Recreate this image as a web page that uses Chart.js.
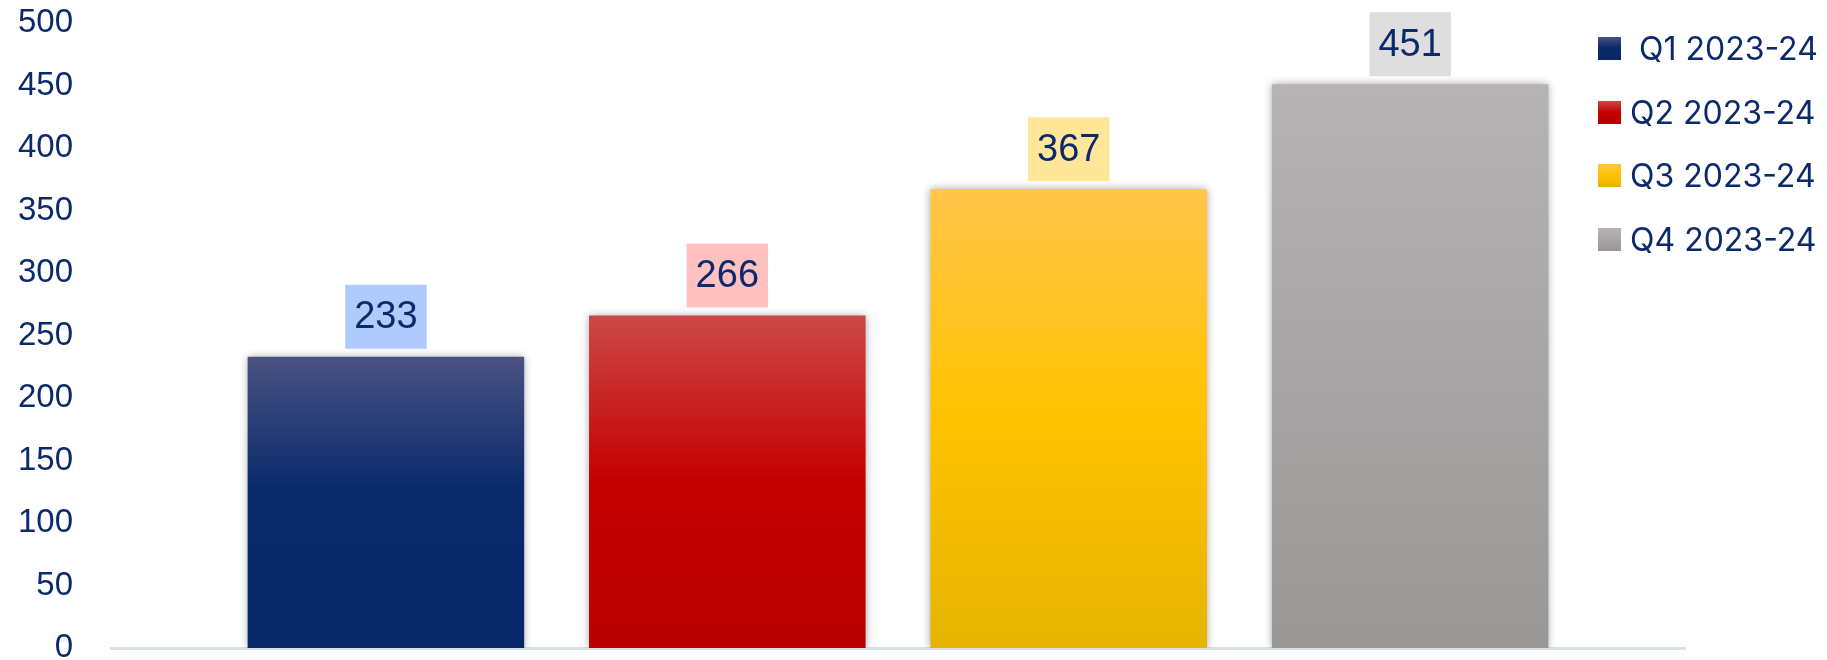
<!DOCTYPE html>
<html>
<head>
<meta charset="utf-8">
<script src="https://cdn.jsdelivr.net/npm/chart.js@4.4.1/dist/chart.umd.min.js"></script>
<style>
  body { margin: 0; background: #fff; }
  #wrap { position: relative; width: 1827px; height: 660px; }
  #legend {
    position: absolute; left: 1598px; top: 17px;
    margin: 0; padding: 0; list-style: none;
    font-family: Inter, "Noto Sans", sans-serif; font-size: 32px; color: #0b2a6b;
  }
  #legend li { display: flex; align-items: center; height: 63.5px; white-space: pre; }
  #legend .box { width: 23px; height: 23px; margin-right: 9px; flex: none; }
</style>
</head>
<body>
<div id="wrap">
  <canvas id="myChart" width="1827" height="660"></canvas>
  <ul id="legend"></ul>
</div>
<script>
// 四半期ごとの値
const QUARTERS = [' Q1 2023-24', 'Q2 2023-24', 'Q3 2023-24', 'Q4 2023-24'];
const VALUES = [233, 266, 367, 451];
const Y_TICKS = [0, 50, 100, 150, 200, 250, 300, 350, 400, 450, 500];

// 棒のグラデーション（上→下）
const BAR_STOPS = [
  [[0, '#4a5282'], [0.45, '#0a2a6c'], [1, '#07276a']],
  [[0, '#cc4848'], [0.5, '#c40000'], [1, '#b80000']],
  [[0, '#ffc64a'], [0.5, '#ffc200'], [1, '#e6b400']],
  [[0, '#b5b3b4'], [1, '#9a9896']],
];
// 数値ラベルの背景色
const LABEL_BG = ['#aecbfc', '#ffc0c0', '#ffe699', '#dfdedf'];
const TEXT_COLOR = '#0b2a6b';

const ctx = document.getElementById('myChart').getContext('2d');

function barGradient(i) {
  return (context) => {
    const { chart } = context;
    if (!chart.chartArea) return BAR_STOPS[i][0][1];
    const y = chart.scales.y;
    const g = chart.ctx.createLinearGradient(0, y.getPixelForValue(VALUES[i]), 0, y.getPixelForValue(0));
    BAR_STOPS[i].forEach(([o, c]) => g.addColorStop(o, c));
    return g;
  };
}

// 棒の影
const barShadow = {
  id: 'barShadow',
  beforeDatasetsDraw(chart) {
    const c = chart.ctx;
    c.save();
    c.shadowColor = 'rgba(0,0,0,0.35)';
    c.shadowBlur = 8;
  },
  afterDatasetsDraw(chart) {
    chart.ctx.restore();
  },
};

// 棒の上に値ラベルを描く
const valueLabels = {
  id: 'valueLabels',
  afterDatasetsDraw(chart) {
    const c = chart.ctx;
    c.save();
    c.font = '38px "Liberation Sans", Arial, sans-serif';
    c.textAlign = 'center';
    c.textBaseline = 'middle';
    chart.data.datasets.forEach((ds, i) => {
      const bar = chart.getDatasetMeta(i).data[0];
      const text = String(ds.data[0].y);
      const w = c.measureText(text).width + 18;
      const h = 64;
      const bottom = bar.y - 8;
      c.fillStyle = LABEL_BG[i];
      c.fillRect(bar.x - w / 2, bottom - h, w, h);
      c.fillStyle = TEXT_COLOR;
      c.fillText(text, bar.x, bottom - h / 2 + 1);
    });
    c.restore();
  },
};

new Chart(ctx, {
  type: 'bar',
  data: {
    datasets: QUARTERS.map((q, i) => ({
      label: q,
      data: [{ x: i, y: VALUES[i] }],
      backgroundColor: barGradient(i),
      grouped: false,
      barPercentage: 0.81,
      categoryPercentage: 1,
    })),
  },
  options: {
    responsive: false,
    animation: false,
    devicePixelRatio: 1,
    layout: { padding: { left: 18, right: 142, top: 23, bottom: 12 } },
    plugins: {
      legend: { display: false },
      tooltip: { enabled: false },
    },
    scales: {
      x: {
        type: 'linear',
        offset: false,
        min: -0.805,
        max: 3.805,
        afterBuildTicks: (s) => { s.ticks = QUARTERS.map((_, i) => ({ value: i })); },
        ticks: { display: false },
        grid: { display: false, drawTicks: false, offset: false },
        border: { color: '#d9e0e8', width: 3 },
      },
      y: {
        min: 0,
        max: 500,
        afterBuildTicks: (s) => { s.ticks = Y_TICKS.map((v) => ({ value: v })); },
        // ラベル左側の余白は不要
        afterFit: (s) => {
          s.paddingTop = 0;
          s.paddingBottom = 0;
          s.width -= s.options.ticks.padding;
        },
        ticks: {
          padding: 38,
          color: TEXT_COLOR,
          font: { family: '"Liberation Sans", Arial, sans-serif', size: 33, lineHeight: 1 },
        },
        grid: { display: false, drawTicks: false },
        border: { display: false },
      },
    },
  },
  plugins: [barShadow, valueLabels],
});

// 凡例（HTML）
const legendEl = document.getElementById('legend');
QUARTERS.forEach((q, i) => {
  const li = document.createElement('li');
  const box = document.createElement('span');
  box.className = 'box';
  box.style.background = 'linear-gradient(' +
    BAR_STOPS[i].map(([o, c]) => c + ' ' + o * 100 + '%').join(', ') + ')';
  li.appendChild(box);
  li.appendChild(document.createTextNode(q));
  legendEl.appendChild(li);
});
</script>
</body>
</html>
